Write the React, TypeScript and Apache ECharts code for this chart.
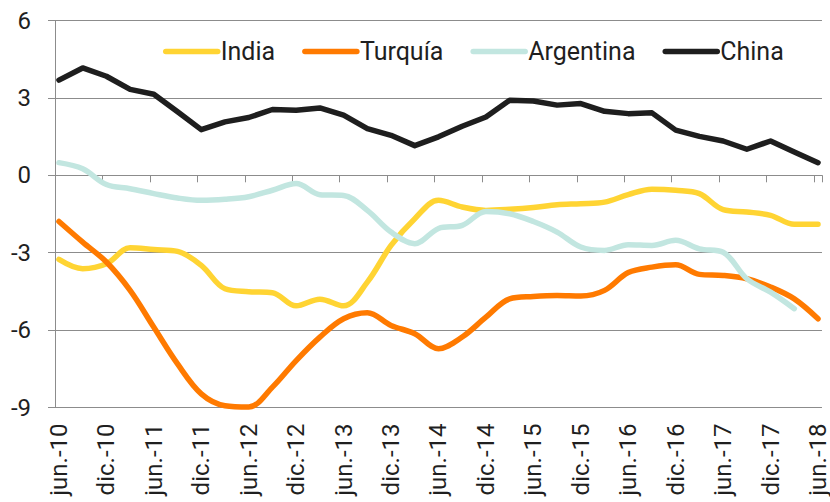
import React, { useEffect, useRef } from "react";
import * as echarts from "echarts";

const monthNames = ["ene.", "feb.", "mar.", "abr.", "may.", "jun.", "jul.", "ago.", "sep.", "oct.", "nov.", "dic."];
// monthly category axis from jun.-10 to jun.-18
const startYear = 2010;
const startMonth = 5; // jun.
const monthCount = 97;
const categories: string[] = [];
for (let k = 0; k < monthCount; k++) {
  const m = (startMonth + k) % 12;
  const y = startYear + Math.floor((startMonth + k) / 12);
  categories.push(`${monthNames[m]}-${String(y).slice(2)}`);
}

// quarterly observations (jun.-10 ... jun.-18)
const india = [
  -3.26, -3.62, -3.43, -2.81, -2.88, -2.95, -3.49, -4.4, -4.51, -4.55, -5.06,
  -4.8, -5.06, -4.14, -2.72, -1.68, -0.97, -1.23, -1.36, -1.32, -1.25, -1.14,
  -1.1, -1.04, -0.75, -0.54, -0.58, -0.71, -1.33, -1.42, -1.55, -1.9, -1.9,
];
const turquia = [
  -1.79, -2.59, -3.36, -4.46, -5.89, -7.31, -8.47, -8.93, -8.98, -8.21, -7.18,
  -6.27, -5.56, -5.33, -5.82, -6.14, -6.72, -6.27, -5.5, -4.79, -4.7, -4.66,
  -4.68, -4.46, -3.77, -3.56, -3.47, -3.84, -3.88, -4.01, -4.33, -4.79, -5.56,
];
const argentina = [
  0.49, 0.25, -0.36, -0.52, -0.71, -0.88, -0.97, -0.93, -0.83, -0.58, -0.32,
  -0.75, -0.78, -1.36, -2.2, -2.65, -2.06, -1.94, -1.4, -1.49, -1.79, -2.2,
  -2.78, -2.91, -2.69, -2.72, -2.52, -2.85, -2.98, -4.01, -4.53, -5.17, null,
];
const china = [
  3.69, 4.16, 3.84, 3.33, 3.14, 2.46, 1.77, 2.07, 2.24, 2.55, 2.52, 2.61, 2.33,
  1.81, 1.55, 1.15, 1.49, 1.9, 2.26, 2.91, 2.88, 2.72, 2.78, 2.48, 2.39, 2.42,
  1.75, 1.51, 1.33, 1.01, 1.33, 0.9, 0.49,
];

const seriesNames = ["India", "Turquía", "Argentina", "China"];
const seriesColors = ["#FFD433", "#FF7A00", "#C2E6E0", "#1E1E1E"];
const seriesValues = [india, turquia, argentina, china];

function toMonthly(q: (number | null)[]) {
  const out: (number | null)[] = new Array(monthCount).fill(null);
  q.forEach((v, i) => {
    out[i * 3] = v;
  });
  return out;
}

const FONT = "Roboto";
const TEXT = "#1F1F1F";
const GRID = "#8C8C8C";

export default function App() {
  const ref = useRef<HTMLDivElement>(null);
  useEffect(() => {
    if (!ref.current) return;
    const chart = echarts.init(ref.current, undefined, { renderer: "svg" });
    chart.setOption({
      animation: false,
      backgroundColor: "#FFFFFF",
      textStyle: { fontFamily: FONT },
      grid: { left: 55, right: 5, top: 20.5, bottom: 94.5, containLabel: false },
      legend: {
        left: 158,
        top: 34,
        itemWidth: 52,
        itemHeight: 6,
        itemGap: 27,
        data: seriesNames,
        textStyle: { fontFamily: FONT, fontSize: 25, color: TEXT, padding: [0, 0, 0, -2] },
        lineStyle: { width: 5.5, cap: "round" },
      },
      xAxis: [
        {
          type: "category",
          data: categories,
          boundaryGap: true,
          position: "bottom",
          axisLine: { show: true, onZero: true, lineStyle: { color: GRID, width: 1 } },
          axisTick: { show: true, interval: 5, length: 7, lineStyle: { color: GRID, width: 1 } },
          axisLabel: { show: false },
          splitLine: { show: false },
        },
        {
          type: "category",
          data: categories,
          boundaryGap: true,
          position: "bottom",
          axisLine: { show: false, onZero: false },
          axisTick: { show: false },
          axisLabel: {
            show: true,
            interval: 5,
            rotate: 90,
            margin: 16,
            fontFamily: FONT,
            fontSize: 24,
            color: TEXT,
          },
          splitLine: { show: false },
        },
      ],
      yAxis: {
        type: "value",
        min: -9,
        max: 6,
        interval: 3,
        axisLine: { show: true, lineStyle: { color: GRID, width: 1 } },
        axisTick: { show: true, length: 7, lineStyle: { color: GRID, width: 1 } },
        axisLabel: { margin: 24, fontFamily: FONT, fontSize: 24, color: TEXT },
        splitLine: { show: true, lineStyle: { color: GRID, width: 1 } },
      },
      series: seriesNames.map((name, i) => ({
        name,
        type: "line",
        xAxisIndex: 0,
        data: toMonthly(seriesValues[i]),
        connectNulls: true,
        smooth: name === "China" ? false : 0.35,
        symbol: "none",
        showSymbol: false,
        color: seriesColors[i],
        lineStyle: { color: seriesColors[i], width: 5.5, cap: "round", join: "round" },
        clip: false,
        z: 2 + i,
      })),
    });
    return () => chart.dispose();
  }, []);
  return (
    <div
      ref={ref}
      style={{ position: "fixed", left: 0, top: 0, width: 830, height: 502 }}
    />
  );
}
